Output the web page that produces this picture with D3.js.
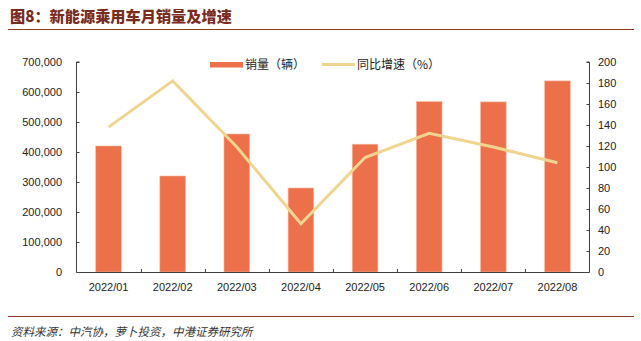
<!DOCTYPE html>
<html>
<head>
<meta charset="utf-8">
<script src="https://cdn.jsdelivr.net/npm/d3@7/dist/d3.min.js"></script>
<style>
  html, body { margin: 0; padding: 0; background: #fff; }
  svg { display: block; }
</style>
</head>
<body>
<svg id="chart" width="641" height="341"></svg>
<script>
const categories = ["2022/01","2022/02","2022/03","2022/04","2022/05","2022/06","2022/07","2022/08"];
const sales = [420000, 320000, 460000, 280000, 426000, 568000, 567000, 637000];
const growth = [138, 182, 119, 46, 109, 132, 119, 104];
const leftTicks = [0, 100000, 200000, 300000, 400000, 500000, 600000, 700000];
const rightTicks = [0, 20, 40, 60, 80, 100, 120, 140, 160, 180, 200];
const title = "图8：新能源乘用车月销量及增速";
const source = "资料来源：中汽协，萝卜投资，中港证券研究所";
const legendLabels = ["销量（辆）", "同比增速（%）"];

const svg = d3.select("#chart");
const m = {left: 76.5, right: 589.5, top: 62, bottom: 272};
const axisColor = "#404040";
const barColor = "#EC7049";
const lineColor = "#F1D58F";
const latin = "'Liberation Sans', Arial, sans-serif";
const cjk = "'Noto Sans CJK SC', sans-serif";

// Title
svg.append("text").attr("x", 10).attr("y", 22)
  .attr("font-family", cjk).attr("font-weight", 900).attr("font-size", 15.2)
  .attr("fill", "#7A2B1E").text(title);
svg.append("line").attr("x1", 8).attr("x2", 634).attr("y1", 29.5).attr("y2", 29.5)
  .attr("stroke", "#8B3A24").attr("stroke-width", 1.2);

// Footer
svg.append("line").attr("x1", 8).attr("x2", 634).attr("y1", 316.5).attr("y2", 316.5)
  .attr("stroke", "#8B3A24").attr("stroke-width", 1.2);
svg.append("text").attr("x", 11).attr("y", 336)
  .attr("font-family", cjk).attr("font-style", "italic").attr("font-size", 11.5)
  .attr("fill", "#333").text(source);

// Scales
const x = d3.scaleBand().domain(categories).range([m.left, m.right]).paddingInner(0.6).paddingOuter(0.3);
const xStep = d3.scaleBand().domain(categories).range([m.left, m.right]);
const yL = d3.scaleLinear().domain([0, 700000]).range([m.bottom, m.top]);
const yR = d3.scaleLinear().domain([0, 200]).range([m.bottom, m.top]);

// Bars
svg.append("g").selectAll("rect").data(sales).join("rect")
  .attr("x", (d, i) => x(categories[i]))
  .attr("width", x.bandwidth())
  .attr("y", d => yL(d))
  .attr("height", d => m.bottom - yL(d))
  .attr("fill", barColor)
  .attr("stroke", "#F6B9A0").attr("stroke-width", 0.6);

// Line
const line = d3.line()
  .x((d, i) => x(categories[i]) + x.bandwidth() / 2)
  .y(d => yR(d));
svg.append("path").datum(growth).attr("d", line)
  .attr("fill", "none").attr("stroke", lineColor).attr("stroke-width", 3)
  .attr("stroke-linejoin", "miter");

// Left axis
const gL = svg.append("g").attr("transform", `translate(${m.left},0)`)
  .call(d3.axisRight(yL).tickValues(leftTicks).tickSize(3).tickFormat(() => ""));
gL.select(".domain").attr("stroke", axisColor).attr("d", `M3,${m.top}H0V${m.bottom}`);
gL.selectAll(".tick line").attr("stroke", axisColor);
svg.append("g").selectAll("text").data(leftTicks).join("text")
  .attr("x", 62).attr("y", d => yL(d) + 4)
  .attr("text-anchor", "end").attr("font-family", latin).attr("font-size", 11)
  .attr("fill", "#222").text(d => d3.format(",")(d));

// Right axis
const gR = svg.append("g").attr("transform", `translate(${m.right},0)`)
  .call(d3.axisLeft(yR).tickValues(rightTicks).tickSize(3).tickFormat(() => ""));
gR.select(".domain").attr("stroke", axisColor).attr("d", `M-3,${m.top}H0V${m.bottom}`);
gR.selectAll(".tick line").attr("stroke", axisColor);
svg.append("g").selectAll("text").data(rightTicks).join("text")
  .attr("x", 598).attr("y", d => yR(d) + 4)
  .attr("text-anchor", "start").attr("font-family", latin).attr("font-size", 11)
  .attr("fill", "#222").text(d => d);

// X axis
svg.append("line").attr("x1", m.left).attr("x2", m.right)
  .attr("y1", m.bottom + 0.5).attr("y2", m.bottom + 0.5)
  .attr("stroke", axisColor).attr("stroke-width", 1);
svg.append("g").selectAll("line").data(categories.slice(1)).join("line")
  .attr("x1", d => Math.round(xStep(d)) + 0.5).attr("x2", d => Math.round(xStep(d)) + 0.5)
  .attr("y1", m.bottom).attr("y2", m.bottom - 3)
  .attr("stroke", axisColor);
svg.append("g").selectAll("text").data(categories).join("text")
  .attr("x", d => x(d) + x.bandwidth() / 2).attr("y", 291)
  .attr("text-anchor", "middle").attr("font-family", latin).attr("font-size", 11)
  .attr("fill", "#222").text(d => d);

// Legend
const lg = svg.append("g");
lg.append("rect").attr("x", 210).attr("y", 62).attr("width", 33).attr("height", 5.5).attr("fill", barColor);
lg.append("text").attr("x", 245).attr("y", 69).attr("font-family", cjk).attr("font-size", 12)
  .attr("fill", "#222").text(legendLabels[0]);
lg.append("line").attr("x1", 322).attr("x2", 355).attr("y1", 64.5).attr("y2", 64.5)
  .attr("stroke", lineColor).attr("stroke-width", 3);
lg.append("text").attr("x", 357).attr("y", 69).attr("font-family", cjk).attr("font-size", 12)
  .attr("fill", "#222").text(legendLabels[1]);
</script>
</body>
</html>
